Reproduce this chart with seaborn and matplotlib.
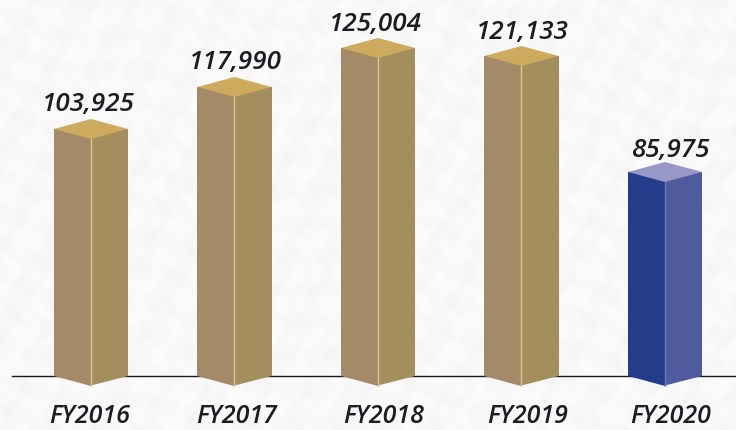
import pandas as pd
import numpy as np
import matplotlib.pyplot as plt
import matplotlib.transforms as mtrans
import seaborn as sns

years = ['FY2016', 'FY2017', 'FY2018', 'FY2019', 'FY2020']
values = [103925, 117990, 125004, 121133, 85975]
# the drawn bars are not to scale with the printed values, so heights are read off the picture
bar_heights = [247, 289, 328, 320, 204]

tan = {'left': '#a38a68', 'right': '#a58e5e', 'top': '#cdaa5e', 'edge': '#e6c67c'}
blue = {'left': '#233d8a', 'right': '#4f5b9d', 'top': '#9797c8', 'edge': '#6f78b4'}
bg = '#f8f8f8'

sns.set_theme(style='white')
plt.rcParams['font.family'] = ['Open Sans', 'DejaVu Sans']

df = pd.DataFrame({
    'year': years * 2,
    'height': bar_heights * 2,
    'face': ['left'] * 5 + ['right'] * 5,
})

fig = plt.figure(figsize=(7.36, 4.30), dpi=100, facecolor=bg)

# faint paper mottling behind everything
yy, xx = np.mgrid[0:430, 0:736]
paper = (np.sin(xx * 0.13 + yy * 0.07) + np.sin(xx * 0.05 - yy * 0.19 + np.sin(xx * 0.03) * 2)
         + np.sin(xx * 0.31 + np.sin(yy * 0.11) * 3)) / 3
fig.figimage(248 + 4 * paper, cmap='gray', vmin=0, vmax=255, zorder=-1)

# axes runs from the start of the baseline to the right edge, baseline at y=376px
ax = fig.add_axes([12 / 736, 54 / 430, 724 / 736, 376 / 430])
ax.patch.set_alpha(0)

sns.barplot(data=df, x='year', y='height', hue='face', hue_order=['left', 'right'],
            palette=[tan['left'], tan['right']], width=0.516, gap=0, saturation=1,
            legend=False, ax=ax)

ax.set_xlim((12 - 91) / 143.5, (736 - 91) / 143.5)
ax.set_ylim(0, 376)
ax.set_xlabel('')
ax.set_ylabel('')
ax.set_yticks([])
sns.despine(ax=ax, left=True)
ax.spines['bottom'].set_color('#1a1a1a')
ax.spines['bottom'].set_linewidth(1)
ax.spines['bottom'].set_zorder(0.5)

font = dict(style='italic', weight=600, color='#1c1c22')
ax.tick_params(axis='x', length=0, pad=20)
ax.set_xticks(range(len(years)))
ax.set_xticklabels(years, fontsize=18, **font)
tick_nudge = [-1, 2, 6, 6, 6]
for lab, dx in zip(ax.get_xticklabels(), tick_nudge):
    lab.set_transform(lab.get_transform() + mtrans.ScaledTranslation(dx / 100, 0, fig.dpi_scale_trans))

label_nudge = [-3, 1, -3, 1, 5]
for i, (lbar, rbar) in enumerate(zip(ax.containers[0], ax.containers[1])):
    cols = blue if i == 4 else tan
    lbar.set_facecolor(cols['left'])
    rbar.set_facecolor(cols['right'])
    lbar.set_edgecolor('none')
    rbar.set_edgecolor('none')
    x0 = lbar.get_x()
    xm = rbar.get_x()
    x1 = xm + rbar.get_width()
    h = lbar.get_height()
    # pointed bottom of the box, hanging under the baseline
    ax.fill([x0, xm, xm], [0, 0, -9.5], color=cols['left'], lw=0, clip_on=False, zorder=2)
    ax.fill([xm, x1, xm], [0, 0, -9.5], color=cols['right'], lw=0, clip_on=False, zorder=2)
    # top of the box
    ax.fill([x0, xm, x1, xm], [h, h + 10, h, h - 10], color=cols['top'], lw=0, clip_on=False, zorder=3)
    ax.plot([xm, xm], [-9.5, h - 10], color=cols['edge'], lw=1, clip_on=False, zorder=3)
    ax.annotate(f'{values[i]:,}', (xm, h), xytext=(label_nudge[i] * 0.72, 24 * 0.72 - (2 if i == 4 else 0)),
                textcoords='offset points', ha='center', va='center', fontsize=18.7,
                annotation_clip=False, **font)

plt.savefig('out.png', dpi=100, facecolor=bg)
